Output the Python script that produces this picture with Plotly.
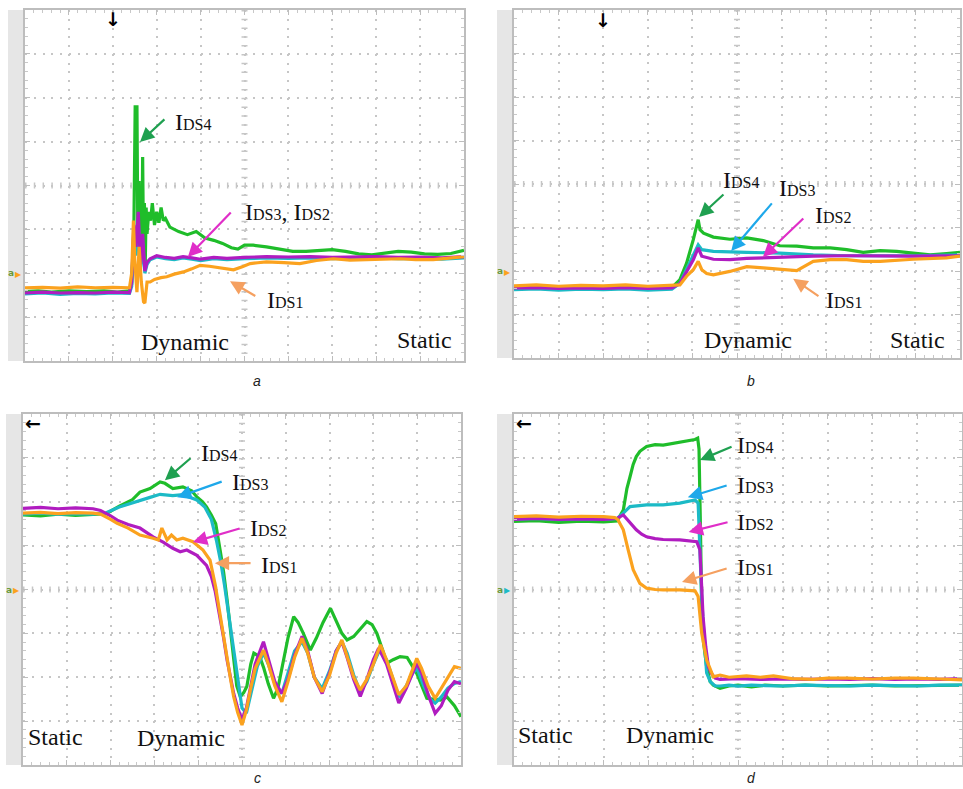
import plotly.graph_objects as go

# ---------------- data (divisions: x 0..10, y 0..8) ----------------
# Panel a
a_green_x = [0, 0.3, 0.6, 1.0, 1.4, 1.8, 2.1, 2.38, 2.43, 2.48, 2.51, 2.53, 2.55, 2.57, 2.60, 2.62, 2.64, 2.66, 2.68, 2.70,
             2.72, 2.74, 2.76, 2.78, 2.82, 2.86, 2.90, 2.95, 3.0, 3.05, 3.1, 3.15, 3.2, 3.3, 3.5, 3.7, 3.9, 4.1, 4.3, 4.5,
             4.7, 4.85, 5.0, 5.2, 5.5, 5.8, 6.1, 6.4, 6.7, 7.0, 7.3, 7.6, 7.9, 8.2, 8.5, 8.8, 9.1, 9.4, 9.7, 10]
a_green_y = [1.58, 1.6, 1.57, 1.6, 1.58, 1.6, 1.57, 1.6, 1.75, 3.0, 5.83, 4.2, 5.83, 2.8, 4.1, 2.0, 3.9, 2.3, 4.65, 2.5,
             3.6, 2.26, 3.5, 2.9, 3.4, 3.2, 3.6, 3.1, 3.4, 3.15, 3.5, 3.2, 3.25, 3.05, 2.95, 2.88, 2.95, 2.8, 2.75, 2.68,
             2.58, 2.55, 2.64, 2.64, 2.6, 2.55, 2.5, 2.5, 2.52, 2.54, 2.5, 2.44, 2.42, 2.46, 2.5, 2.48, 2.44, 2.43, 2.45, 2.52]
a_mag_x = [0, 0.4, 0.8, 1.2, 1.6, 2.0, 2.38, 2.43, 2.48, 2.53, 2.58, 2.63, 2.68, 2.73, 2.78, 2.85, 3.0, 3.2, 3.4, 3.6,
           3.8, 4.0, 4.3, 4.6, 5.0, 5.5, 6.0, 6.5, 7.0, 7.5, 8.0, 8.5, 9.0, 9.5, 10]
a_mag_y = [1.55, 1.57, 1.55, 1.56, 1.55, 1.57, 1.56, 1.8, 3.1, 2.6, 3.4, 2.2, 2.9, 2.05, 2.25, 2.33, 2.4, 2.36, 2.34, 2.38,
           2.35, 2.32, 2.36, 2.34, 2.36, 2.38, 2.37, 2.38, 2.36, 2.37, 2.38, 2.36, 2.37, 2.35, 2.38]
a_cyan_x = [0, 0.4, 0.8, 1.2, 1.6, 2.0, 2.38, 2.43, 2.48, 2.53, 2.58, 2.63, 2.68, 2.73, 2.78, 2.85, 3.0, 3.2, 3.4, 3.6,
            3.8, 4.0, 4.3, 4.6, 5.0, 5.5, 6.0, 6.5, 7.0, 7.5, 8.0, 8.5, 9.0, 9.5, 10]
a_cyan_y = [1.53, 1.55, 1.52, 1.54, 1.53, 1.55, 1.54, 1.7, 2.9, 2.4, 3.2, 2.1, 2.7, 2.0, 2.2, 2.31, 2.37, 2.33, 2.31, 2.35,
            2.32, 2.29, 2.33, 2.31, 2.33, 2.35, 2.34, 2.35, 2.33, 2.34, 2.35, 2.33, 2.34, 2.32, 2.35]
a_orange_x = [0, 0.4, 0.8, 1.2, 1.6, 2.0, 2.38, 2.43, 2.47, 2.5, 2.55, 2.6, 2.65, 2.7, 2.73, 2.78, 2.85, 2.95, 3.1, 3.23,
              3.4, 3.61, 3.8, 3.99, 4.2, 4.37, 4.55, 4.75, 4.95, 5.13, 5.3, 5.5, 5.9, 6.26, 6.64, 7.02, 7.4, 7.78, 8.16,
              8.54, 8.9, 9.3, 9.6, 10]
a_orange_y = [1.67, 1.68, 1.66, 1.69, 1.67, 1.68, 1.67, 2.0, 3.2, 2.3, 1.57, 2.6, 1.8, 1.35, 1.32, 1.8, 1.8, 1.86, 1.9, 1.92,
              1.98, 2.03, 2.1, 2.18, 2.16, 2.14, 2.12, 2.08, 2.15, 2.22, 2.24, 2.26, 2.24, 2.22, 2.29, 2.33, 2.3, 2.31, 2.32,
              2.33, 2.31, 2.31, 2.34, 2.38]

# Panel b
b_green_x = [0, 0.5, 1.0, 1.5, 2.0, 2.5, 3.0, 3.54, 3.72, 3.87, 4.02, 4.13, 4.17, 4.25, 4.47, 4.84, 5.22, 5.59, 5.96,
             6.34, 6.71, 7.09, 7.46, 7.83, 8.21, 8.58, 8.95, 9.33, 9.7, 10]
b_green_y = [1.61, 1.63, 1.6, 1.62, 1.61, 1.63, 1.6, 1.62, 1.8, 2.18, 2.72, 3.18, 2.95, 2.87, 2.78, 2.73, 2.76, 2.7, 2.58,
             2.57, 2.53, 2.53, 2.49, 2.43, 2.47, 2.45, 2.41, 2.37, 2.4, 2.43]
b_cyan_x = [0, 0.5, 1.0, 1.5, 2.0, 2.5, 3.0, 3.54, 3.72, 3.87, 4.02, 4.13, 4.21, 4.47, 5.22, 5.96, 6.71, 7.46, 8.21,
            8.95, 10]
b_cyan_y = [1.57, 1.59, 1.56, 1.58, 1.57, 1.59, 1.56, 1.58, 1.72, 2.03, 2.34, 2.6, 2.49, 2.45, 2.43, 2.41, 2.37, 2.35,
            2.35, 2.35, 2.37]
b_mag_x = [0, 0.5, 1.0, 1.5, 2.0, 2.5, 3.0, 3.54, 3.72, 3.87, 4.02, 4.13, 4.21, 4.47, 4.84, 5.22, 5.96, 6.71, 7.46,
           8.21, 8.95, 10]
b_mag_y = [1.61, 1.62, 1.6, 1.61, 1.6, 1.62, 1.6, 1.61, 1.71, 1.99, 2.26, 2.53, 2.34, 2.27, 2.26, 2.29, 2.32, 2.34, 2.35,
           2.34, 2.34, 2.35]
b_orange_x = [0, 0.5, 1.0, 1.5, 2.0, 2.5, 3.0, 3.54, 3.72, 3.87, 4.02, 4.13, 4.21, 4.32, 4.47, 4.84, 5.22, 5.59, 5.96,
              6.34, 6.71, 7.09, 7.46, 7.83, 8.21, 8.95, 9.7, 10]
b_orange_y = [1.66, 1.68, 1.65, 1.67, 1.66, 1.68, 1.65, 1.66, 1.68, 1.88, 2.03, 2.22, 2.03, 1.94, 1.91, 1.99, 2.1, 2.07,
              2.04, 2.01, 2.22, 2.26, 2.26, 2.22, 2.22, 2.27, 2.3, 2.34]

# Panel c
c_green_x = [0, 0.4, 0.8, 1.2, 1.6, 1.9, 2.2, 2.5, 2.67, 2.9, 3.13, 3.24, 3.42, 3.65, 3.85, 3.97, 4.1, 4.19, 4.3, 4.4,
             4.5, 4.58, 4.66, 4.74, 4.81, 4.88, 4.96, 5.04, 5.11, 5.2, 5.27, 5.35, 5.42, 5.5, 5.6, 5.72, 5.82, 5.95,
             6.05, 6.18, 6.28, 6.4, 6.56, 6.7, 6.85, 7.02, 7.15, 7.28, 7.4, 7.55, 7.7, 7.85, 7.97, 8.08, 8.2, 8.31,
             8.45, 8.61, 8.77, 8.99, 9.22, 9.4, 9.53, 9.68, 9.85, 10]
c_green_y = [5.7, 5.68, 5.72, 5.69, 5.71, 5.73, 5.9, 6.05, 6.22, 6.3, 6.45, 6.42, 6.3, 6.34, 6.25, 6.11, 6.0, 5.88, 5.7,
             5.5, 4.9, 4.4, 3.76, 3.0, 2.39, 1.8, 1.56, 1.65, 1.79, 2.3, 2.55, 2.5, 2.43, 2.2, 1.85, 1.52, 1.75, 2.39,
             2.9, 3.38, 3.25, 3.0, 2.62, 2.9, 3.25, 3.57, 3.3, 3.0, 2.85, 2.93, 3.1, 3.27, 3.2, 3.0, 2.65, 2.32,
             2.4, 2.47, 2.45, 2.09, 1.52, 1.5, 1.48, 1.55, 1.35, 1.1]
c_cyan_x = [0, 0.4, 0.8, 1.2, 1.6, 1.9, 2.2, 2.5, 2.67, 2.9, 3.13, 3.42, 3.65, 3.97, 4.15, 4.3, 4.42, 4.52, 4.6, 4.7,
            4.8, 4.9, 5.0, 5.1, 5.2, 5.35, 5.49, 5.6, 5.75, 5.91, 6.05, 6.2, 6.37, 6.5, 6.65, 6.83, 7.0, 7.15, 7.28,
            7.4, 7.55, 7.7, 7.85, 8.0, 8.14, 8.3, 8.45, 8.58, 8.75, 8.9, 9.0, 9.15, 9.3, 9.41, 9.55, 9.7, 9.85, 10]
c_cyan_y = [5.72, 5.74, 5.71, 5.73, 5.72, 5.75, 5.88, 5.98, 6.04, 6.1, 6.17, 6.14, 6.16, 6.04, 5.88, 5.6, 5.1, 4.6, 4.1,
            3.4, 2.6, 1.9, 1.3, 1.18, 1.6, 2.25, 2.55, 2.3, 1.85, 1.63, 2.1, 2.6, 2.81, 2.55, 2.0, 1.74, 2.15, 2.6,
            2.81, 2.55, 2.05, 1.67, 1.9, 2.3, 2.62, 2.4, 1.95, 1.55, 1.8, 2.1, 2.2, 1.8, 1.5, 1.41, 1.55, 1.75, 1.86, 1.9]
c_mag_x = [0, 0.4, 0.8, 1.2, 1.6, 1.77, 2.0, 2.15, 2.4, 2.67, 2.97, 3.2, 3.42, 3.59, 3.74, 3.97, 4.19, 4.3, 4.39, 4.5,
           4.58, 4.66, 4.74, 4.81, 4.9, 5.0, 5.1, 5.19, 5.3, 5.49, 5.6, 5.75, 5.91, 6.05, 6.2, 6.37, 6.5, 6.65, 6.83,
           7.0, 7.15, 7.28, 7.4, 7.55, 7.7, 7.85, 8.0, 8.12, 8.3, 8.45, 8.58, 8.75, 8.99, 9.1, 9.25, 9.41, 9.55, 9.7,
           9.85, 10]
c_mag_y = [5.85, 5.87, 5.84, 5.86, 5.84, 5.8, 5.68, 5.58, 5.48, 5.4, 5.2, 5.08, 4.94, 4.86, 4.9, 4.78, 4.55, 4.3, 3.95,
           3.38, 2.9, 2.39, 2.0, 1.63, 1.3, 1.03, 1.3, 1.79, 2.3, 2.81, 2.4, 1.9, 1.63, 1.95, 2.5, 2.93, 2.6, 2.0,
           1.63, 2.1, 2.6, 2.81, 2.45, 1.95, 1.56, 1.95, 2.4, 2.66, 2.3, 1.8, 1.41, 1.75, 2.32, 2.1, 1.6, 1.18, 1.35,
           1.7, 1.9, 1.85]
c_orange_x = [0, 0.4, 0.8, 1.2, 1.6, 1.77, 2.0, 2.15, 2.4, 2.67, 2.97, 3.09, 3.17, 3.29, 3.39, 3.51, 3.65, 3.88, 4.11,
              4.27, 4.39, 4.5, 4.58, 4.66, 4.74, 4.81, 4.9, 5.0, 5.1, 5.19, 5.3, 5.49, 5.6, 5.75, 5.91, 6.05, 6.2,
              6.37, 6.5, 6.65, 6.83, 7.0, 7.15, 7.28, 7.4, 7.55, 7.7, 7.85, 8.0, 8.16, 8.3, 8.45, 8.58, 8.75, 8.99,
              9.1, 9.25, 9.41, 9.55, 9.7, 9.85, 10]
c_orange_y = [5.74, 5.76, 5.73, 5.75, 5.74, 5.72, 5.6, 5.51, 5.4, 5.24, 5.17, 5.13, 5.4, 5.13, 5.24, 5.13, 5.17, 5.09,
              4.9, 4.67, 4.1, 3.4, 2.9, 2.39, 1.95, 1.56, 1.2, 0.91, 1.25, 1.71, 2.2, 2.62, 2.3, 1.8, 1.44, 1.9, 2.45,
              2.89, 2.55, 2.0, 1.67, 2.05, 2.55, 2.85, 2.45, 2.0, 1.71, 1.95, 2.3, 2.74, 2.4, 1.95, 1.6, 1.8, 2.43,
              2.2, 1.8, 1.52, 1.75, 2.0, 2.24, 2.2]

# Panel d
d_green_x = [0, 0.5, 1.0, 1.5, 2.0, 2.3, 2.44, 2.52, 2.59, 2.66, 2.73, 2.81, 2.96, 3.15, 3.33, 3.5, 3.7, 3.9, 4.04,
             4.1, 4.13, 4.16, 4.19, 4.23, 4.3, 4.38, 4.45, 4.6, 4.8, 5.0, 5.3, 5.6, 6.0, 6.5, 7.0, 7.5, 8.0, 8.5,
             9.0, 9.5, 10]
d_green_y = [5.55, 5.57, 5.53, 5.56, 5.54, 5.56, 5.81, 6.3, 6.57, 6.85, 7.03, 7.15, 7.26, 7.3, 7.29, 7.32, 7.35, 7.38,
             7.42, 7.45, 7.2, 5.5, 3.6, 2.8, 2.24, 1.9, 1.82, 1.75, 1.8, 1.82, 1.78, 1.82, 1.8, 1.82, 1.8, 1.81, 1.82,
             1.8, 1.81, 1.82, 1.82]
d_cyan_x = [0, 0.5, 1.0, 1.5, 2.0, 2.3, 2.44, 2.59, 2.96, 3.33, 3.7, 4.04, 4.11, 4.15, 4.19, 4.25, 4.3, 4.38, 4.49,
            4.6, 4.8, 5.0, 5.3, 5.6, 6.0, 6.5, 7.0, 7.5, 8.0, 8.5, 9.0, 9.5, 10]
d_cyan_y = [5.6, 5.62, 5.59, 5.61, 5.6, 5.62, 5.74, 5.89, 5.93, 5.93, 5.97, 6.04, 5.97, 5.0, 3.8, 2.8, 2.1, 1.9, 1.8,
            1.8, 1.82, 1.8, 1.82, 1.81, 1.8, 1.82, 1.81, 1.8, 1.82, 1.81, 1.8, 1.82, 1.82]
d_mag_x = [0, 0.5, 1.0, 1.5, 2.0, 2.3, 2.44, 2.51, 2.6, 2.73, 2.85, 2.96, 3.15, 3.33, 3.7, 4.0, 4.08, 4.15, 4.19, 4.22,
           4.28, 4.34, 4.4, 4.49, 4.6, 5.0, 5.5, 6.0, 6.5, 7.0, 7.5, 8.0, 8.5, 9.0, 9.5, 10]
d_mag_y = [5.6, 5.62, 5.6, 5.61, 5.6, 5.62, 5.7, 5.62, 5.5, 5.36, 5.26, 5.2, 5.16, 5.14, 5.13, 5.11, 5.09, 4.9, 4.2,
           3.38, 2.7, 2.24, 2.1, 1.98, 1.95, 1.97, 1.95, 1.96, 1.95, 1.96, 1.95, 1.97, 1.95, 1.96, 1.95, 1.97]
d_orange_x = [0, 0.5, 1.0, 1.5, 2.0, 2.25, 2.32, 2.44, 2.55, 2.66, 2.81, 2.96, 3.15, 3.33, 3.7, 4.04, 4.11, 4.19, 4.3,
              4.45, 4.6, 4.8, 5.19, 5.5, 5.79, 6.2, 6.68, 7.0, 7.43, 8.0, 8.5, 8.92, 9.5, 10]
d_orange_y = [5.66, 5.68, 5.65, 5.67, 5.66, 5.64, 5.59, 5.36, 4.9, 4.45, 4.14, 4.03, 4.0, 3.99, 3.99, 3.97, 3.84, 3.0,
              2.39, 2.01, 2.05, 2.0, 2.03, 2.0, 2.03, 1.97, 1.95, 1.98, 1.98, 1.96, 1.98, 1.98, 1.96, 1.94]

panel_names = ["a", "b", "c", "d"]
series_names = ["IDS4", "IDS3", "IDS2", "IDS1"]

# ---------------- styling ----------------
W, H = 963, 789
GREEN, CYAN, MAGENTA, ORANGE = "#1fbd2a", "#1cbac6", "#b01cc0", "#fba21e"
AR_GREEN, AR_CYAN, AR_MAG, AR_ORANGE = "#1fa050", "#1ea8ea", "#e02ec8", "#f5a060"
GRID = "#c6c6c6"
SERIF = "Liberation Serif"

panels = {
    "a": dict(l=25, r=464, t=10, b=361, ax=""),
    "b": dict(l=514, r=960, t=10, b=358, ax="2"),
    "c": dict(l=23, r=461, t=414, b=765, ax="3"),
    "d": dict(l=514, r=962, t=414, b=765, ax="4"),
}

data = {
    "a": [(a_green_x, a_green_y, GREEN), (a_cyan_x, a_cyan_y, CYAN), (a_mag_x, a_mag_y, MAGENTA),
          (a_orange_x, a_orange_y, ORANGE)],
    "b": [(b_green_x, b_green_y, GREEN), (b_cyan_x, b_cyan_y, CYAN), (b_mag_x, b_mag_y, MAGENTA),
          (b_orange_x, b_orange_y, ORANGE)],
    "c": [(c_green_x, c_green_y, GREEN), (c_cyan_x, c_cyan_y, CYAN), (c_mag_x, c_mag_y, MAGENTA),
          (c_orange_x, c_orange_y, ORANGE)],
    "d": [(d_green_x, d_green_y, GREEN), (d_cyan_x, d_cyan_y, CYAN), (d_mag_x, d_mag_y, MAGENTA),
          (d_orange_x, d_orange_y, ORANGE)],
}

fig = go.Figure()
layout = dict(width=W, height=H, margin=dict(l=0, r=0, t=0, b=0), autosize=False,
              paper_bgcolor="white", plot_bgcolor="white", showlegend=False)
shapes = []
annotations = []


def lbl(num):
    return 'I<span style="font-size:16px">DS%s</span>' % num


for p in panel_names:
    g = panels[p]
    sfx = g["ax"]
    xr, yr = "x" + sfx, "y" + sfx
    wpx, hpx = g["r"] - g["l"], g["b"] - g["t"]
    xs = wpx / 50.0
    ys = hpx / 40.0
    xkey, ykey = "xaxis" + sfx, "yaxis" + sfx
    common = dict(showticklabels=False, zeroline=False, showline=True, linecolor="#bdbdbd", linewidth=1.5,
                  mirror="allticks", ticks="inside", ticklen=5, tickcolor="#bdbdbd", tickwidth=1,
                  dtick=1, tick0=0, fixedrange=True, gridcolor=GRID, gridwidth=2,
                  minor=dict(dtick=0.2, ticks="inside", ticklen=3, tickcolor="#c8c8c8", showgrid=False))
    layout[xkey] = dict(domain=[g["l"] / W, g["r"] / W], range=[0, 10], anchor=yr,
                        griddash="2px,%.2fpx" % (ys - 2), **common)
    layout[ykey] = dict(domain=[1 - g["b"] / H, 1 - g["t"] / H], range=[0, 8], anchor=xr,
                        griddash="2px,%.2fpx" % (xs - 2), **common)
    for (x, y, c) in data[p]:
        fig.add_trace(go.Scatter(x=x, y=y, mode="lines", line=dict(color=c, width=3.2), xaxis=xr, yaxis=yr,
                                 hoverinfo="skip"))
    # centre tick rows
    shapes.append(dict(type="line", xref=xr, yref=yr, x0=0, x1=10, y0=4, y1=4,
                       line=dict(color=GRID, width=6, dash="1.5px,%.2fpx" % (xs - 1.5)), layer="below"))
    shapes.append(dict(type="line", xref=xr, yref=yr, x0=5, x1=5, y0=8, y1=0,
                       line=dict(color=GRID, width=6, dash="1.5px,%.2fpx" % (ys - 1.5)), layer="below"))
    # grey strip on the left
    shapes.append(dict(type="rect", xref="paper", yref="paper", x0=(g["l"] - 17) / W, x1=(g["l"] - 1) / W,
                       y0=1 - g["b"] / H, y1=1 - g["t"] / H, fillcolor="#e6e6e6", line=dict(width=0),
                       layer="below"))

# channel markers
for p, yv, col in [("a", 2.0, ORANGE), ("b", 2.0, ORANGE), ("c", 4.0, ORANGE), ("d", 4.0, CYAN)]:
    g = panels[p]
    yr = "y" + g["ax"]
    annotations.append(dict(xref="paper", yref=yr, x=(g["l"] - 1) / W, y=yv, text="▶", showarrow=False,
                            xanchor="right", yanchor="middle", font=dict(size=8, color=col)))
    annotations.append(dict(xref="paper", yref=yr, x=(g["l"] - 9) / W, y=yv, text="<b>a</b>", showarrow=False,
                            xanchor="right", yanchor="middle", font=dict(size=9, color="#6a9a3a",
                                                                         family="DejaVu Sans")))

# trigger markers
for p in ["a", "b"]:
    g = panels[p]
    annotations.append(dict(xref="x" + g["ax"], yref="y" + g["ax"] + " domain", x=2, y=1.01, text="<b>↓</b>",
                            showarrow=False, xanchor="center", yanchor="top",
                            font=dict(size=19, color="black", family="DejaVu Sans")))
for p in ["c", "d"]:
    g = panels[p]
    annotations.append(dict(xref="x" + g["ax"] + " domain", yref="y" + g["ax"] + " domain", x=0.0, y=1.01,
                            text="<b>←</b>", showarrow=False, xanchor="left", yanchor="top",
                            font=dict(size=19, color="black", family="DejaVu Sans")))

# labels: (panel, text, x, y)
labels = [
    ("a", lbl("4"), 3.37, 5.44), ("a", lbl("3") + ", " + lbl("2"), 4.97, 3.39), ("a", lbl("1"), 5.47, 1.39),
    ("b", lbl("4"), 4.64, 4.09), ("b", lbl("3"), 5.9, 3.91), ("b", lbl("2"), 6.7, 3.29), ("b", lbl("1"), 6.95, 1.33),
    ("c", lbl("4"), 4.02, 7.11), ("c", lbl("3"), 4.73, 6.45), ("c", lbl("2"), 5.14, 5.4), ("c", lbl("1"), 5.39, 4.56),
    ("d", lbl("4"), 4.93, 7.29), ("d", lbl("3"), 4.93, 6.38), ("d", lbl("2"), 4.93, 5.54), ("d", lbl("1"), 4.93, 4.51),
]
for p, t, x, y in labels:
    sfx = panels[p]["ax"]
    annotations.append(dict(xref="x" + sfx, yref="y" + sfx, x=x, y=y, text=t, showarrow=False, xanchor="left",
                            yanchor="middle", font=dict(family=SERIF, size=24, color="#111111")))

# arrows: (panel, colour, head x, head y, tail x, tail y)
arrows = [
    ("a", AR_GREEN, 2.62, 4.99, 3.21, 5.54), ("a", AR_MAG, 3.71, 2.37, 4.72, 3.42), ("a", AR_ORANGE, 4.67, 1.82, 5.28, 1.46),
    ("b", AR_GREEN, 4.15, 3.24, 4.73, 3.79), ("b", AR_CYAN, 4.87, 2.46, 5.81, 3.59), ("b", AR_MAG, 5.58, 2.32, 6.52, 3.24),
    ("b", AR_ORANGE, 6.26, 1.82, 6.86, 1.4),
    ("c", AR_GREEN, 3.24, 6.49, 3.86, 7.02), ("c", AR_CYAN, 3.52, 6.1, 4.57, 6.47), ("c", AR_MAG, 3.88, 5.08, 4.98, 5.4),
    ("c", AR_ORANGE, 4.38, 4.6, 5.23, 4.6),
    ("d", AR_GREEN, 4.15, 6.95, 4.89, 7.27), ("d", AR_CYAN, 3.88, 6.1, 4.78, 6.38), ("d", AR_MAG, 3.9, 5.31, 4.8, 5.54),
    ("d", AR_ORANGE, 3.75, 4.17, 4.78, 4.49),
]
for p, c, hx, hy, tx, ty in arrows:
    sfx = panels[p]["ax"]
    annotations.append(dict(xref="x" + sfx, yref="y" + sfx, axref="x" + sfx, ayref="y" + sfx, x=hx, y=hy, ax=tx,
                            ay=ty, text="", showarrow=True, arrowhead=2, arrowsize=1.3, arrowwidth=2.2,
                            arrowcolor=c, standoff=0, startstandoff=0))

# phase texts
phases = [("a", "Dynamic", 3.64, 0.43), ("a", "Static", 9.1, 0.48), ("b", "Dynamic", 5.24, 0.41),
          ("b", "Static", 9.05, 0.41), ("c", "Static", 0.75, 0.64), ("c", "Dynamic", 3.6, 0.62),
          ("d", "Static", 0.71, 0.68), ("d", "Dynamic", 3.49, 0.68)]
for p, t, x, y in phases:
    sfx = panels[p]["ax"]
    annotations.append(dict(xref="x" + sfx, yref="y" + sfx, x=x, y=y, text=t, showarrow=False, xanchor="center",
                            yanchor="middle", font=dict(family=SERIF, size=24, color="#111111")))

# captions
for p, px, py in [("a", 257, 381), ("b", 751, 381), ("c", 257, 778), ("d", 751, 778)]:
    annotations.append(dict(xref="paper", yref="paper", x=px / W, y=1 - py / H, text="<i>%s</i>" % p,
                            showarrow=False, xanchor="center", yanchor="middle",
                            font=dict(family="Liberation Sans", size=14, color="#222222")))

layout["shapes"] = shapes
layout["annotations"] = annotations
fig.update_layout(**layout)
fig.write_html("out.html", config={"displayModeBar": False},
               post_script="document.body.style.margin='0';document.body.style.overflow='hidden';")
